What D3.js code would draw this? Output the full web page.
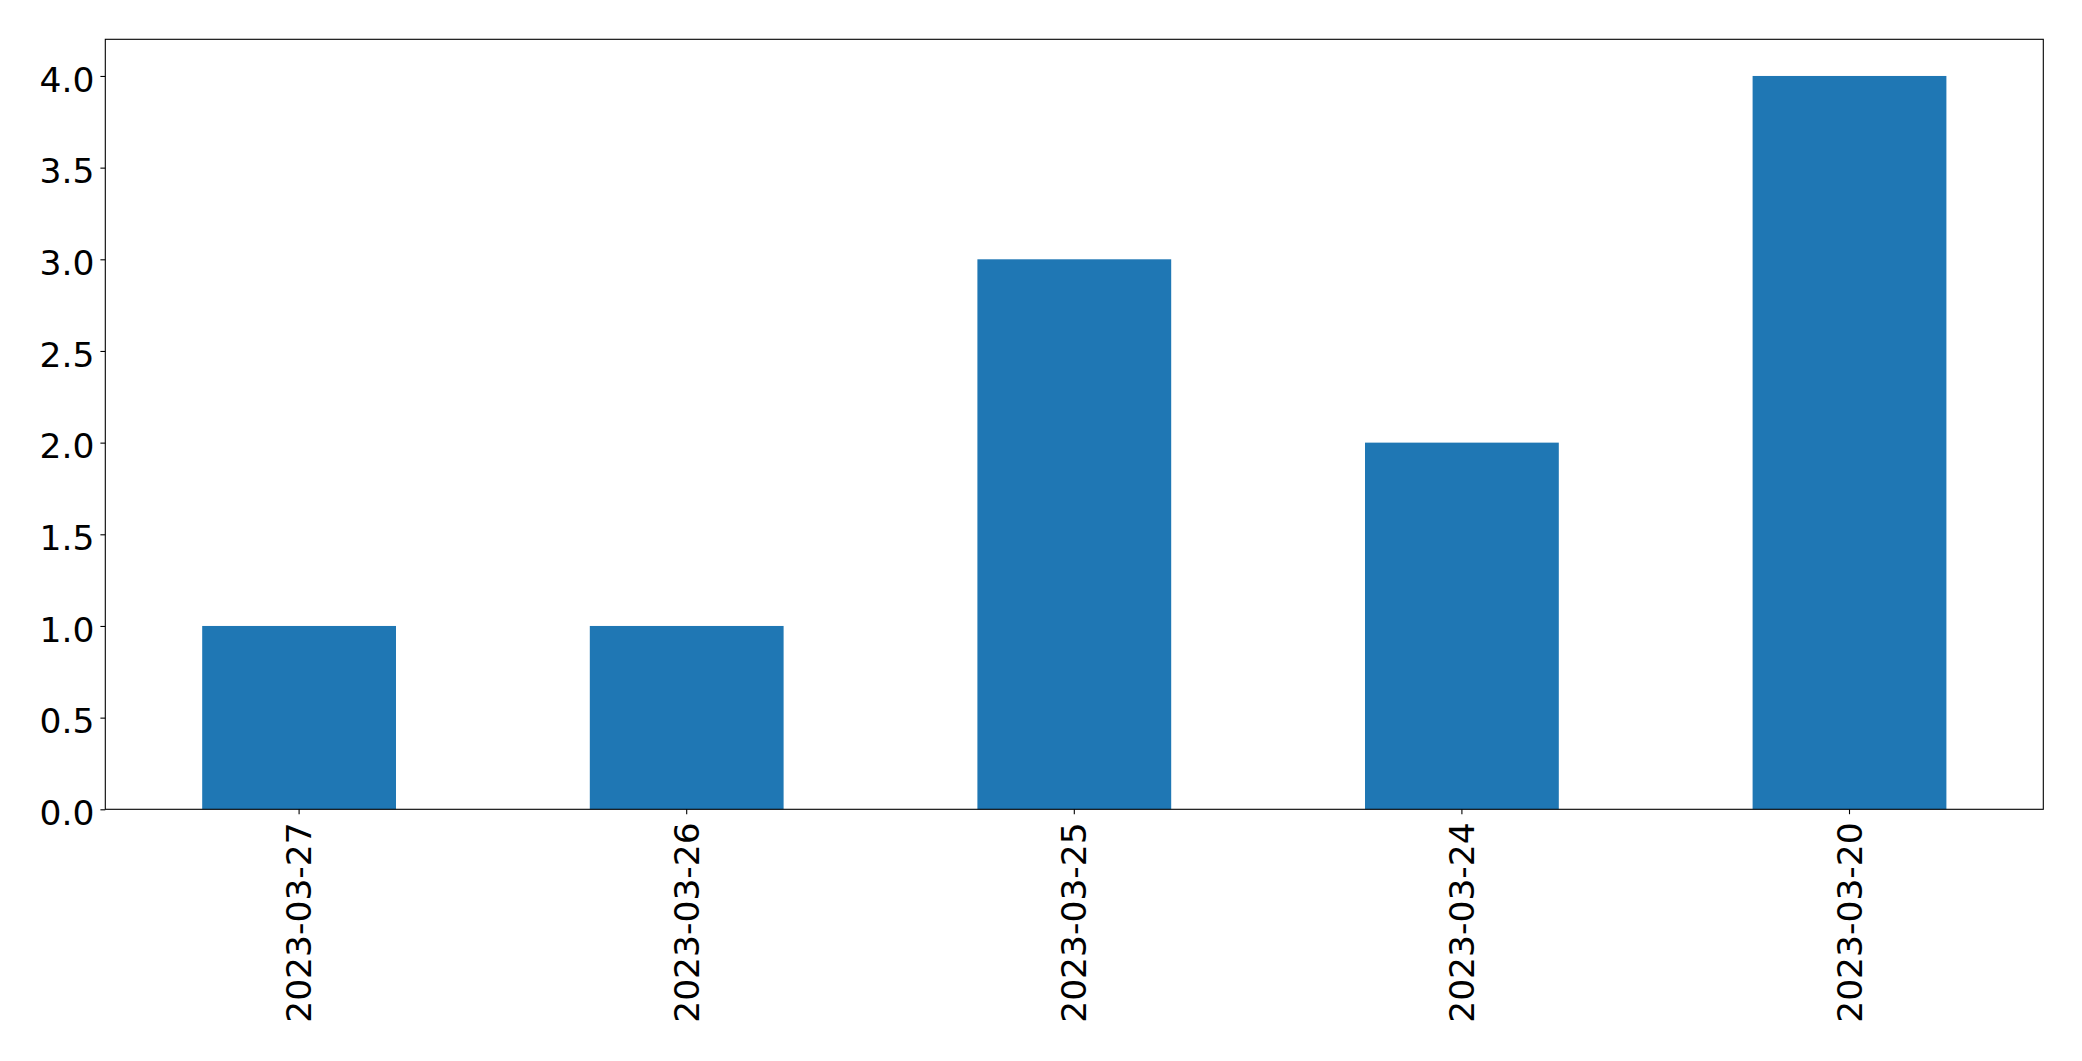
<!DOCTYPE html>
<html><head><meta charset="utf-8">
<script src="https://cdn.jsdelivr.net/npm/d3@7"></script>
<style>body{margin:0;background:#fff}svg{display:block}</style>
</head><body>
<script>
const categories = ["2023-03-27","2023-03-26","2023-03-25","2023-03-24","2023-03-20"];
const values = [1, 1, 3, 2, 4];
const yTicks = [0.0, 0.5, 1.0, 1.5, 2.0, 2.5, 3.0, 3.5, 4.0];

const W = 2082, H = 1061;
const m = {left: 105.3, right: 2043.3, top: 39.3, bottom: 809.3};
const svg = d3.select("body").append("svg").attr("width", W).attr("height", H);

const x = d3.scaleBand().domain(categories).range([m.left, m.right]).paddingInner(0.5).paddingOuter(0.25);
const y = d3.scaleLinear().domain([0, 4.2]).range([m.bottom, m.top]);

svg.append("g").selectAll("rect").data(values).join("rect")
  .attr("x", (d, i) => x(categories[i]))
  .attr("width", x.bandwidth())
  .attr("y", d => y(d))
  .attr("height", d => y(0) - y(d))
  .attr("fill", "#1f77b4");

const font = "DejaVu Sans";
const yAxis = svg.append("g").attr("transform", `translate(${m.left},0)`)
  .call(d3.axisLeft(y).tickValues(yTicks).tickFormat(d3.format(".1f")).tickSize(4.9).tickPadding(6));
yAxis.select(".domain").remove();
yAxis.selectAll("line").attr("stroke", "#000").attr("stroke-width", 1.1);
yAxis.selectAll("text").attr("font-family", font).attr("font-size", 34.5).attr("fill", "#000")
  .attr("dy", "0.38em").attr("y", 2);

const xAxis = svg.append("g").attr("transform", `translate(0,${m.bottom})`)
  .call(d3.axisBottom(x).tickSize(4.9).tickPadding(0));
xAxis.select(".domain").remove();
xAxis.selectAll("line").attr("stroke", "#000").attr("stroke-width", 1.1);
xAxis.selectAll("text").attr("font-family", font).attr("font-size", 34.5).attr("fill", "#000")
  .attr("transform", "rotate(-90)")
  .attr("text-anchor", "end")
  .attr("x", -13).attr("y", 0).attr("dy", "0.35em");

svg.append("rect").attr("x", m.left).attr("y", m.top)
  .attr("width", m.right - m.left).attr("height", m.bottom - m.top)
  .attr("fill", "none").attr("stroke", "#000").attr("stroke-width", 1.1);
</script>
</body></html>
